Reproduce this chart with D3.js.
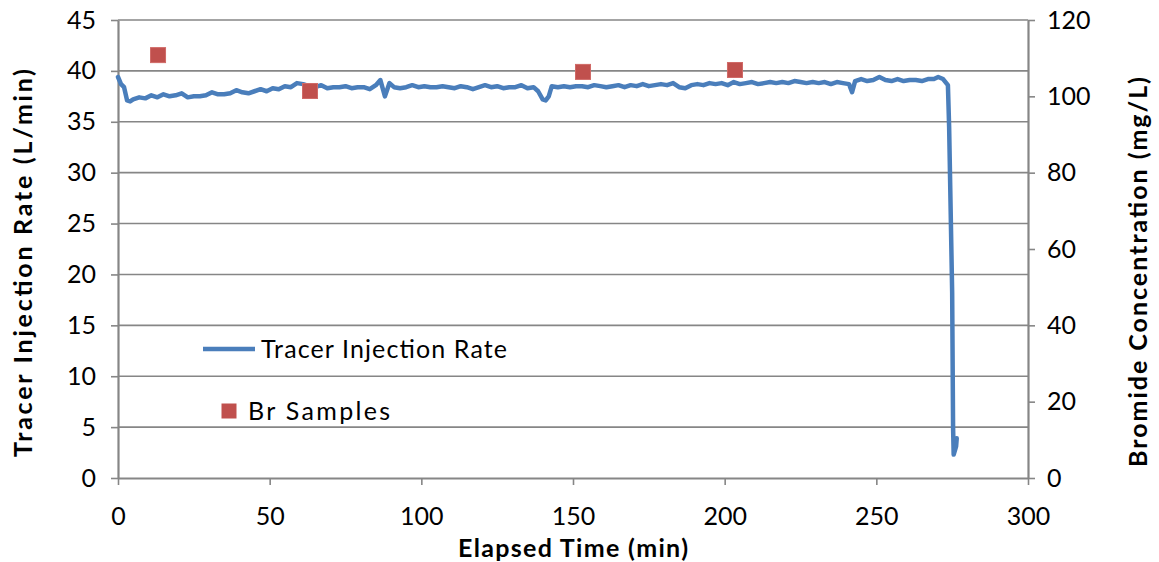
<!DOCTYPE html>
<html>
<head>
<meta charset="utf-8">
<script src="https://cdn.jsdelivr.net/npm/d3@7"></script>
<style>
  body { margin: 0; background: #fff; }
  text { font-family: Lato, "Open Sans", sans-serif; fill: #000; }
</style>
</head>
<body>
<div id="ct1"><svg></svg></div>
<script>
// elapsed time (min) and injection rate (L/min)
var times = [0, 1, 2, 3, 4, 5, 7, 9, 11, 13, 15, 17, 19, 21, 23, 25, 27, 29, 31, 33, 35, 37, 39, 41, 43, 45, 47, 49,
  51, 53, 55, 57, 59, 61, 63, 65, 67, 69, 71, 73, 75, 77, 79, 81, 83, 85, 86.5, 88, 89.5, 91, 93, 95, 97, 99,
  101, 103, 105, 107, 109, 111, 113, 115, 117, 119, 121, 123, 125, 127, 129, 131, 133, 135, 137, 138.5, 140, 141, 142, 143,
  145, 147, 149, 151, 153, 155, 157, 159, 161, 163, 165, 167, 169, 171, 173, 175, 177, 179, 181, 183, 185, 187, 189,
  191, 193, 195, 197, 199, 201, 203, 205, 207, 209, 211, 213, 215, 217, 219, 221, 223, 225, 227, 229, 231, 233, 235,
  237, 239, 241, 242, 243, 245, 247, 249, 251, 253, 255, 257, 259, 261, 263, 265, 267, 269, 270.4, 272, 273.6,
  274, 275, 275.3, 275.5, 276.3, 276.5]
var rates = [39.4, 38.7, 38.4, 37.1, 37.0, 37.2, 37.4, 37.3, 37.6, 37.4, 37.7, 37.5, 37.6, 37.8, 37.4, 37.5, 37.5, 37.6, 37.9, 37.7, 37.7, 37.8, 38.1, 37.9, 37.8, 38.0, 38.2, 38.0,
  38.3, 38.2, 38.5, 38.4, 38.8, 38.7, 38.5, 38.4, 38.6, 38.3, 38.4, 38.4, 38.5, 38.3, 38.4, 38.4, 38.2, 38.6, 39.1, 37.5, 38.8, 38.4, 38.3, 38.4, 38.6, 38.4,
  38.5, 38.4, 38.4, 38.5, 38.4, 38.3, 38.5, 38.4, 38.2, 38.4, 38.6, 38.4, 38.5, 38.3, 38.4, 38.4, 38.6, 38.3, 38.4, 38.0, 37.2, 37.1, 37.5, 38.5,
  38.4, 38.5, 38.4, 38.5, 38.5, 38.4, 38.6, 38.5, 38.4, 38.5, 38.6, 38.4, 38.6, 38.5, 38.7, 38.5, 38.6, 38.7, 38.6, 38.8, 38.4, 38.3, 38.6,
  38.7, 38.6, 38.8, 38.7, 38.8, 38.6, 38.9, 38.7, 38.8, 38.9, 38.7, 38.8, 38.9, 38.8, 38.9, 38.8, 39.0, 38.9, 38.8, 38.9, 38.8, 38.9, 38.7,
  38.9, 38.8, 38.7, 37.9, 39.0, 39.2, 39.0, 39.1, 39.4, 39.1, 39.0, 39.2, 39.0, 39.1, 39.1, 39.0, 39.2, 39.2, 39.4, 39.2, 38.6,
  34.5, 18.2, 5.0, 2.3, 3.1, 3.9]

// bromide samples: time (min) and concentration (mg/L)
var sampleTimes = [13.2, 63.3, 153.3, 203.4]
var sampleConc = [110.8, 101.4, 106.4, 106.9]

var xTicks = [0, 50, 100, 150, 200, 250, 300]
var yTicks = [0, 5, 10, 15, 20, 25, 30, 35, 40, 45]
var y2Ticks = [0, 20, 40, 60, 80, 100, 120]

var lineColor = '#4a7ebb'
var markColor = '#c0504d'
var axisColor = '#868686'

var W = 1159, H = 562
var m = { l: 118, r: 131, t: 20, b: 84 }
var pw = W - m.l - m.r
var ph = H - m.t - m.b

var svg = d3.select('div#ct1>svg')
  .attr('width', W)
  .attr('height', H)

var g = svg.append('g')
  .attr('transform', 'translate(' + m.l + ',' + m.t + ')')

var x = d3.scaleLinear().domain([0, 300]).range([0, pw])
var y = d3.scaleLinear().domain([0, 45]).range([ph, 0])
var y2 = d3.scaleLinear().domain([0, 120]).range([ph, 0])

// gridlines
g.append('g')
  .selectAll('line')
  .data(yTicks.filter(d => d > 0))
  .join('line')
  .attr('x1', 0).attr('x2', pw)
  .attr('y1', d => y(d)).attr('y2', d => y(d))
  .attr('stroke', axisColor)
  .attr('stroke-width', 1.6)

// axes
function styleAxis(sel) {
  sel.select('.domain').attr('stroke', axisColor).attr('stroke-width', 2.2)
  sel.selectAll('.tick line').attr('stroke', axisColor).attr('stroke-width', 1.6)
  sel.selectAll('.tick text').style('font-size', '25px').attr('fill', '#000')
}

var xa = g.append('g')
  .attr('transform', 'translate(0,' + ph + ')')
  .call(d3.axisBottom(x).tickValues(xTicks).tickSize(7).tickPadding(22).tickSizeOuter(0))
styleAxis(xa)

var ya = g.append('g')
  .call(d3.axisLeft(y).tickValues(yTicks).tickSize(7).tickPadding(15).tickSizeOuter(0))
styleAxis(ya)

var y2a = g.append('g')
  .attr('transform', 'translate(' + pw + ',0)')
  .call(d3.axisRight(y2).tickValues(y2Ticks).tickSize(7).tickPadding(12).tickSizeOuter(0))
styleAxis(y2a)

// rate line
var rateData = times.map((t, i) => ({ t: t, v: rates[i] }))
var line = d3.line().x(d => x(d.t)).y(d => y(d.v))

g.append('path')
  .datum(rateData)
  .attr('d', line)
  .attr('fill', 'none')
  .attr('stroke', lineColor)
  .attr('stroke-width', 4.5)
  .attr('stroke-linejoin', 'round')
  .attr('stroke-linecap', 'round')

// sample markers on right axis
var sampleData = sampleTimes.map((t, i) => ({ t: t, v: sampleConc[i] }))
var ms = 15
g.selectAll('rect.samp')
  .data(sampleData)
  .join('rect')
  .attr('class', 'samp')
  .attr('x', d => x(d.t) - ms / 2)
  .attr('y', d => y2(d.v) - ms / 2)
  .attr('width', ms)
  .attr('height', ms)
  .attr('fill', markColor)
  .attr('stroke', '#d06a67')
  .attr('stroke-width', 1)

// legend
var lg = svg.append('g')
lg.append('line')
  .attr('x1', 203).attr('x2', 255).attr('y1', 349).attr('y2', 349)
  .attr('stroke', lineColor).attr('stroke-width', 4.5)
lg.append('text')
  .attr('x', 261).attr('y', 358)
  .attr('textLength', 246)
  .style('font-size', '25px')
  .text('Tracer Injection Rate')
lg.append('rect')
  .attr('x', 229 - ms / 2).attr('y', 411 - ms / 2)
  .attr('width', ms).attr('height', ms)
  .attr('fill', markColor)
lg.append('text')
  .attr('x', 248).attr('y', 420)
  .attr('textLength', 142)
  .style('font-size', '25px')
  .text('Br Samples')

// axis titles
svg.append('text')
  .attr('x', 458).attr('y', 557)
  .attr('textLength', 230)
  .style('font-size', '25px').style('font-weight', 'bold')
  .text('Elapsed Time (min)')

svg.append('text')
  .attr('transform', 'translate(32,457) rotate(-90)')
  .attr('textLength', 388)
  .style('font-size', '25px').style('font-weight', 'bold')
  .text('Tracer Injection Rate (L/min)')

svg.append('text')
  .attr('transform', 'translate(1147,467) rotate(-90)')
  .attr('textLength', 390)
  .style('font-size', '25px').style('font-weight', 'bold')
  .text('Bromide Concentration (mg/L)')
</script>
</body>
</html>
